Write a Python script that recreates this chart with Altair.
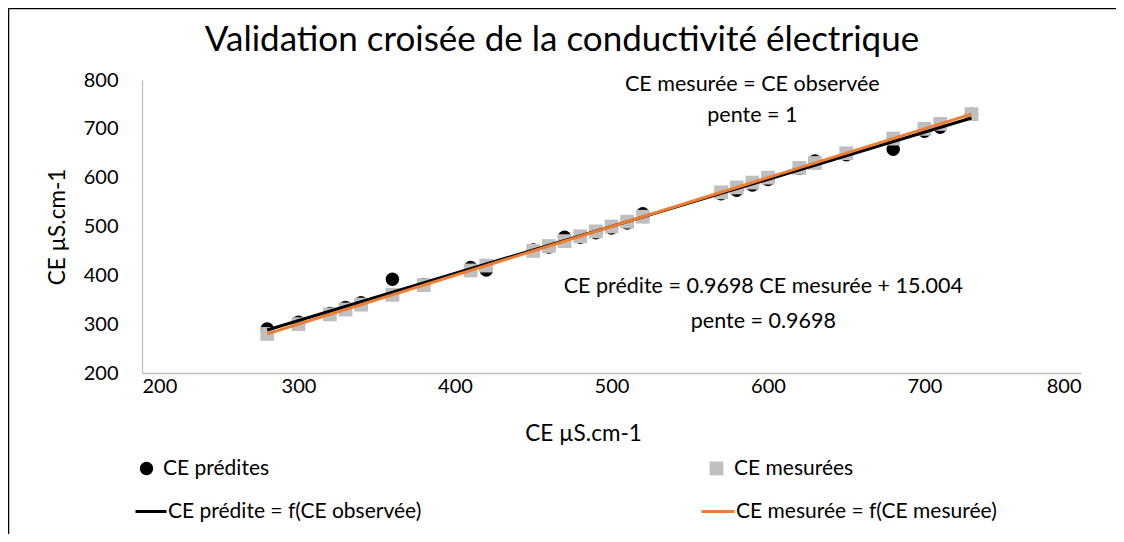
import altair as alt
import pandas as pd

# ---- data ----
ce_mesuree = [280, 300, 320, 330, 340, 360, 380, 410, 420, 450, 460, 470, 480, 490,
              500, 510, 520, 570, 580, 590, 600, 620, 630, 650, 680, 700, 710, 730]
ce_predite = [290, 304, 322, 334, 344, 392, 381, 416, 411, 452, 458, 478, 478, 487,
              497, 507, 526, 567, 574, 585, 596, 619, 634, 647, 658, 695, 703, 730]

lab_pred = "CE prédites"
lab_mes = "CE mesurées"
lab_line_pred = "CE prédite = f(CE observée)"
lab_line_mes = "CE mesurée = f(CE mesurée)"

annot_text = ["CE mesurée = CE observée", "pente = 1",
              "CE prédite = 0.9698 CE mesurée + 15.004", "pente = 0.9698"]
annot_x = [590, 590, 597, 597]
annot_y = [790, 726, 376, 305]

tick_values = [200, 300, 400, 500, 600, 700, 800]
axis_title = "CE µS.cm-1"
chart_title = "Validation croisée de la conductivité électrique"

FONT = "Lato"
GRAY = "#BFBFBF"
ORANGE = "#ED7D31"
TXT = 21.5
LEG = 21

df_pred = pd.DataFrame({"x": ce_mesuree, "y": ce_predite, "s": lab_pred})
df_mes = pd.DataFrame({"x": ce_mesuree, "y": ce_mesuree, "s": lab_mes})
df_annot = pd.DataFrame({"x": annot_x, "y": annot_y, "t": annot_text})
df_title = pd.DataFrame({"t": [chart_title]})

xscale = alt.Scale(domain=[200, 800], nice=False)
yscale = alt.Scale(domain=[200, 800], nice=False)

x_axis = alt.Axis(values=tick_values, grid=False, ticks=False, domainColor=GRAY,
                  domainWidth=1.3, labelFont=FONT, labelFontSize=20, labelColor="#000",
                  labelPadding=3, titleFont=FONT, titleFontSize=22.5,
                  titleFontWeight="normal", titleColor="#000", titleX=441, titleY=60,
                  titleBaseline="middle", titleAlign="center")
y_axis = alt.Axis(values=tick_values, grid=False, ticks=False, domainColor=GRAY,
                  domainWidth=1.3, labelFont=FONT, labelFontSize=20, labelColor="#000",
                  labelPadding=24, titleFont=FONT, titleFontSize=22.5,
                  titleFontWeight="normal", titleColor="#000", titleX=-85,
                  titleY=146.5, titleAngle=270, titleBaseline="middle",
                  titleAlign="center")

X = alt.X("x:Q", scale=xscale, axis=x_axis, title=axis_title)
Y = alt.Y("y:Q", scale=yscale, axis=y_axis, title=axis_title)


def leg(lx, ly, symtype, size, offset, stroke_w=0):
    kw = dict(title=None, orient="none", legendX=lx, legendY=ly, symbolType=symtype,
              symbolSize=size, labelOffset=offset, labelFont=FONT, labelFontSize=LEG,
              labelColor="#000", labelLimit=500, padding=0, symbolOpacity=1)
    if stroke_w:
        kw["symbolStrokeWidth"] = stroke_w
    return alt.Legend(**kw)


pts_pred = alt.Chart(df_pred).mark_point(
    filled=True, shape="circle", size=180, opacity=1
).encode(
    x=X, y=Y,
    color=alt.Color("s:N", scale=alt.Scale(domain=[lab_pred], range=["#000000"]),
                    legend=leg(-6, 378, "circle", 180, 6)),
)

pts_mes = alt.Chart(df_mes).mark_point(
    filled=True, shape="square", size=190, opacity=1
).encode(
    x=X, y=Y,
    color=alt.Color("s:N", scale=alt.Scale(domain=[lab_mes], range=[GRAY]),
                    legend=leg(564, 378, "square", 190, 7)),
)

line_pred = alt.Chart(df_pred).transform_regression("x", "y").transform_calculate(
    s="'" + lab_line_pred + "'"
).mark_line(strokeWidth=3).encode(
    x=X, y=Y,
    color=alt.Color("s:N", scale=alt.Scale(domain=[lab_line_pred], range=["#000000"]),
                    legend=leg(-8, 414.5, "stroke", 961, 0, 3)),
)

line_mes = alt.Chart(df_mes).transform_regression("x", "y").transform_calculate(
    s="'" + lab_line_mes + "'"
).mark_line(strokeWidth=3).encode(
    x=X, y=Y,
    color=alt.Color("s:N", scale=alt.Scale(domain=[lab_line_mes], range=[ORANGE]),
                    legend=leg(558, 413.5, "stroke", 1089, 0, 3)),
)

annot = alt.Chart(df_annot).mark_text(
    font=FONT, fontSize=TXT, color="#000", align="center", baseline="middle"
).encode(x=X, y=Y, text="t:N")

title = alt.Chart(df_title).mark_text(
    font=FONT, fontSize=35, color="#000", align="center", baseline="middle"
).encode(x=alt.value(420), y=alt.value(-40), text="t:N")

border = alt.Chart(pd.DataFrame({"a": [0]})).mark_rect(
    fillOpacity=0, stroke="#000", strokeWidth=1.5
).encode(x=alt.value(-133.5), x2=alt.value(1300), y=alt.value(-71.5), y2=alt.value(700))

chart = alt.layer(
    border, title, pts_pred, pts_mes, line_pred, line_mes, annot
).resolve_scale(color="independent").resolve_legend(color="independent").properties(
    width=939, height=293,
    padding={"left": 134, "top": 72, "right": 35, "bottom": 161},
    autosize=alt.AutoSizeParams(type="none"),
).configure_view(strokeWidth=0)

chart.save("out.html", embed_options={"renderer": "svg", "actions": False})
